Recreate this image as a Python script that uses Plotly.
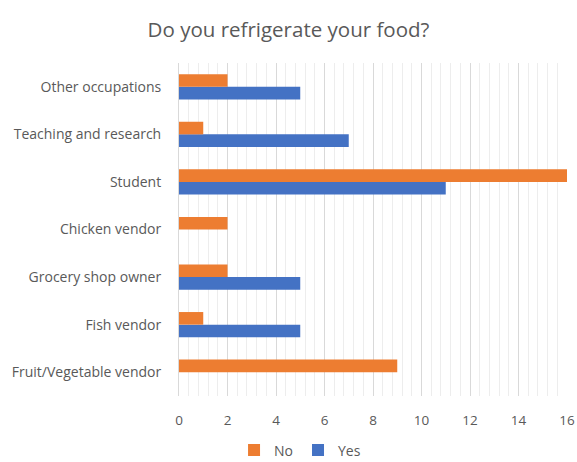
import plotly.graph_objects as go

# Occupations, listed bottom to top on the category axis
occupations = [
    "Fruit/Vegetable vendor",
    "Fish vendor",
    "Grocery shop owner",
    "Chicken vendor",
    "Student",
    "Teaching and research",
    "Other occupations",
]
no_counts = [9, 1, 2, 2, 16, 1, 2]
yes_counts = [0, 5, 5, 0, 11, 7, 5]
x_ticks = [0, 2, 4, 6, 8, 10, 12, 14, 16]

ORANGE = "#ED7D31"
BLUE = "#4472C4"
TEXT = "#595959"
FONT = "'Open Sans', sans-serif"

fig = go.Figure()
# Yes first so it sits below No inside each group
fig.add_trace(go.Bar(y=occupations, x=yes_counts, name="Yes", orientation="h",
                     marker=dict(color=BLUE, line=dict(width=0))))
fig.add_trace(go.Bar(y=occupations, x=no_counts, name="No", orientation="h",
                     marker=dict(color=ORANGE, line=dict(width=0))))

fig.update_layout(
    width=577, height=462,
    margin=dict(l=179, r=10, t=63, b=66, autoexpand=False),
    paper_bgcolor="white", plot_bgcolor="white",
    barmode="group", bargap=0.47, bargroupgap=0,
    title=dict(text="Do you refrigerate your food?", x=0.5, xanchor="center",
               y=0.935, yanchor="middle",
               font=dict(family=FONT, size=20.5, color=TEXT)),
    font=dict(family=FONT, size=13, color=TEXT),
    legend=dict(orientation="h", xref="container", x=0.52, xanchor="center",
                yref="container", y=0.025, yanchor="middle",
                traceorder="reversed", font=dict(family=FONT, size=14, color=TEXT),
                itemwidth=30, tracegroupgap=0),
    showlegend=True,
)
fig.update_xaxes(
    range=[0, 16], tickvals=x_ticks, ticktext=[str(v) for v in x_ticks],
    showgrid=True, gridcolor="#D9D9D9", gridwidth=1,
    minor=dict(dtick=0.4, showgrid=True, gridcolor="#EDEDED", gridwidth=1),
    zeroline=False, showline=False, ticks="", ticklabelstandoff=14,
    automargin=False,
    tickfont=dict(family=FONT, size=13.5, color=TEXT),
)
fig.update_yaxes(
    categoryorder="array", categoryarray=occupations,
    showgrid=False, zeroline=False,
    showline=True, linecolor="#D9D9D9", linewidth=1,
    ticks="", ticklabelstandoff=14, automargin=False,
    tickfont=dict(family=FONT, size=14, color=TEXT),
)

fig.write_html("out.html")
